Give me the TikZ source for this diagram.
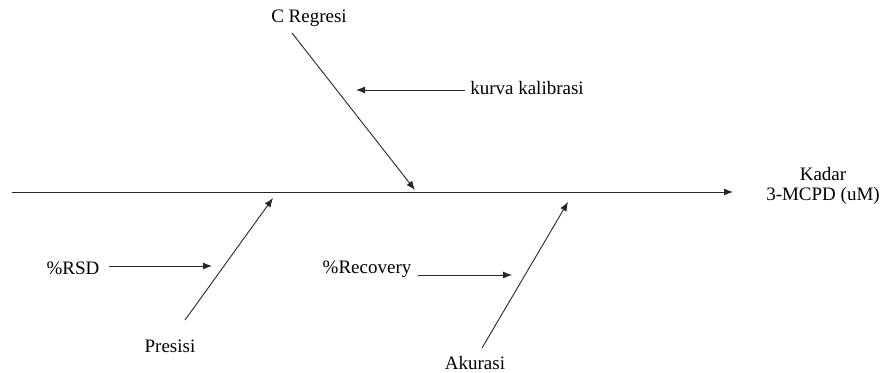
\documentclass[tikz,border=0pt]{standalone}
\usepackage{fontspec}
\setmainfont{Liberation Serif}
\newfontfamily\timesfont{Liberation Serif}
\usepackage{tikz}
\usetikzlibrary{positioning,arrows.meta}

\tikzset{
  lbl/.style={font=\timesfont\fontsize{19}{20}\selectfont, inner sep=1pt, align=center},
  bone/.style={draw=black!85, line width=0.9pt, -{Latex[length=9pt,width=7pt]}}
}

\begin{document}
\begin{tikzpicture}[x=1pt, y=-1pt]
  \useasboundingbox (0,0) rectangle (882,372);

  % spine and effect
  \coordinate (tail) at (12,192);
  \coordinate (head) at (733,192);
  \node[lbl] (kadar) at (823,186) {Kadar\\3-MCPD (uM)};
  \draw[bone] (tail) -- (head);

  % upper bone
  \node[lbl] (regresi) at (309,18) {C Regresi};
  \coordinate (regA) at (292,33);
  \coordinate (regB) at (415,190);
  \draw[bone] (regA) -- (regB);
  \node[lbl] (kurva) at (527,88) {kurva kalibrasi};
  \coordinate (kurvaB) at (356,90);
  \draw[bone] (kurva.west) ++(-4,2) -- (kurvaB);

  % lower bones
  \node[lbl] (presisi) at (170,346) {Presisi};
  \coordinate (preA) at (185,320);
  \coordinate (preB) at (273,198);
  \draw[bone] (preA) -- (preB);
  \node[lbl] (rsd) at (73,268) {\%RSD};
  \coordinate (rsdB) at (212,266);
  \draw[bone] (rsd.east) ++(8,-2) -- (rsdB);

  \node[lbl] (akurasi) at (475,363) {Akurasi};
  \coordinate (akuA) at (482,348);
  \coordinate (akuB) at (568,202);
  \draw[bone] (akuA) -- (akuB);
  \node[lbl] (recovery) at (367,269) {\%Recovery};
  \coordinate (recB) at (512,275);
  \draw[bone] (recovery.east) ++(5,6) -- (recB);
\end{tikzpicture}
\end{document}
